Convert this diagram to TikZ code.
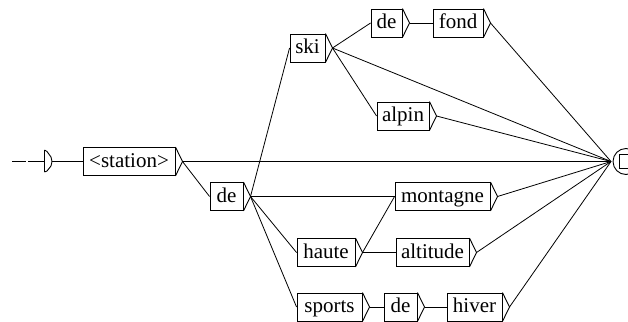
\documentclass[tikz,border=0pt]{standalone}
\usepackage{fontspec}
\setmainfont{Liberation Serif}
\begin{document}
\begin{tikzpicture}[x=1pt,y=-1pt,line width=0.9pt,
  boxstyle/.style={draw,rectangle,inner sep=0pt,text height=15pt,text depth=4pt,font=\fontsize{21}{22}\selectfont},
  wire/.style={line width=0.8pt}]
\useasboundingbox (0,0) rectangle (628,321);
\fill[white] (0,0) rectangle (628,321);
% box macro: name, left, right, centre y, text
\newcommand\ubox[5]{%
  \node[boxstyle,minimum width={#3-#2},minimum height=28] (#1) at ({(#2+#3)/2},#4) {#5};
  \coordinate (#1-t) at ({#3+7.5},#4);
  \draw (#1.north east) -- (#1-t) -- (#1.south east);
}
\ubox{station}{83}{175}{161.5}{<station>}
\ubox{deA}{210}{243}{196.5}{de}
\ubox{ski}{290}{325}{48}{ski}
\ubox{deT}{371}{402}{23}{de}
\ubox{fond}{433}{483}{23}{fond}
\ubox{alpin}{377}{429}{116}{alpin}
\ubox{montagne}{395}{490}{196.5}{montagne}
\ubox{haute}{297}{355}{252.5}{haute}
\ubox{altitude}{396}{469}{252.5}{altitude}
\ubox{sports}{297}{362}{307}{sports}
\ubox{deB}{384}{417}{307}{de}
\ubox{hiver}{447}{502}{307}{hiver}
% initial state
\coordinate (i0) at (12,161.5);
\coordinate (i1) at (26,161.5);
\coordinate (i2) at (28,161.5);
\coordinate (i3) at (44.5,161.5);
\coordinate (init-t) at (52,161.5);
\draw[wire] (i0) -- (i1);
\draw[wire] (i2) -- (i3);
\draw (44.5,150) -- (44.5,172);
\draw (44.5,150) -- (47,151.5) -- (51,157) -- (init-t) -- (51,166) -- (47,171) -- (44.5,172);
% final state
\coordinate (F) at (611,161.5);
\node[draw,circle,minimum size=26,inner sep=0pt] (final) at (626,161.5) {};
\draw (619,154.5) rectangle (634,168.5);
% connectors
\draw[wire] (init-t) -- (station.west);
\draw[wire] (station-t) -- (F);
\draw[wire] (station-t) -- (deA.west);
\draw[wire] (deA-t) -- (ski.west);
\draw[wire] (deA-t) -- (montagne.west);
\draw[wire] (deA-t) -- (haute.west);
\draw[wire] (deA-t) -- (sports.west);
\draw[wire] (ski-t) -- (deT.west);
\draw[wire] (ski-t) -- (alpin.west);
\draw[wire] (ski-t) -- (F);
\draw[wire] (deT-t) -- (fond.west);
\draw[wire] (fond-t) -- (F);
\draw[wire] (alpin-t) -- (F);
\draw[wire] (montagne-t) -- (F);
\draw[wire] (haute-t) -- (montagne.west);
\draw[wire] (haute-t) -- (altitude.west);
\draw[wire] (altitude-t) -- (F);
\draw[wire] (sports-t) -- (deB.west);
\draw[wire] (deB-t) -- (hiver.west);
\draw[wire] (hiver-t) -- (F);
\end{tikzpicture}
\end{document}
